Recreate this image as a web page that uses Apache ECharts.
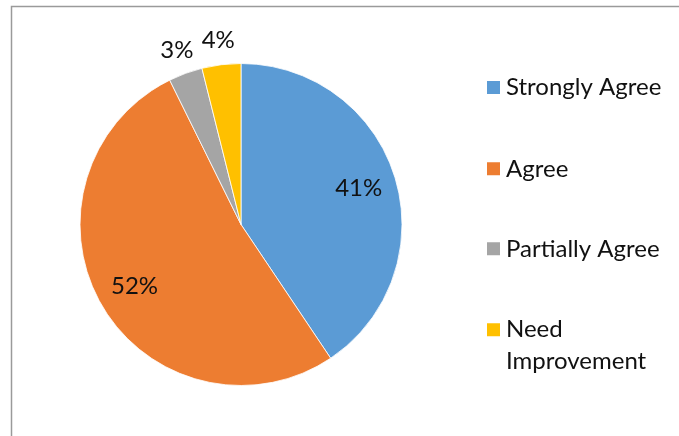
<!DOCTYPE html>
<html>
<head>
<meta charset="utf-8">
<script src="https://cdn.jsdelivr.net/npm/echarts@6/dist/echarts.min.js"></script>
<style>
html,body{margin:0;padding:0;background:#fff;}
#main{width:679px;height:436px;}
</style>
</head>
<body>
<div id="main"></div>
<script>
// Data
var categories = ['Strongly Agree', 'Agree', 'Partially Agree', 'Need Improvement'];
var values = [40.6, 52.1, 3.4, 3.9];
var colors = ['#5B9BD5', '#ED7D31', '#A5A5A5', '#FFC000'];
var insideLabelShown = [true, true, false, false];

var FONT = 'Lato';
var chart = echarts.init(document.getElementById('main'), null, {renderer: 'canvas'});

function pieData(showFlags, transparent) {
  return categories.map(function (c, i) {
    var d = {name: c, value: values[i]};
    d.itemStyle = transparent ? {color: 'rgba(0,0,0,0)', borderWidth: 0} : {color: colors[i]};
    if (showFlags) d.label = {show: showFlags[i]};
    return d;
  });
}
var pctFmt = function (p) { return Math.round(p.percent) + '%'; };
var labelStyle = {position: 'inside', formatter: pctFmt, fontFamily: FONT, fontSize: 24, color: '#111'};

var legendTops = [71.5, 152.8, 232.8, 281.7];
var legends = categories.map(function (c, i) {
  return {
    data: [c],
    orient: 'vertical',
    left: 485,
    top: legendTops[i],
    padding: 0,
    itemWidth: 15,
    itemHeight: 15,
    icon: 'rect',
    selectedMode: false,
    formatter: function (name) {
      return name === 'Need Improvement' ? '\u00a0\nNeed\nImprovement' : name;
    },
    textStyle: {fontFamily: FONT, fontSize: 24, color: '#111', lineHeight: 32}
  };
});

chart.setOption({
  animation: false,
  color: colors,
  legend: legends,
  graphic: [{
    type: 'rect',
    shape: {x: 11.5, y: 6.5, width: 800, height: 600},
    style: {fill: 'none', stroke: '#9a9a9a', lineWidth: 1.5},
    silent: true,
    z: -1
  }],
  series: [
    {
      type: 'pie',
      center: [241, 224.5],
      radius: [0, 161],
      startAngle: 90,
      clockwise: true,
      avoidLabelOverlap: false,
      label: {show: false},
      labelLine: {show: false},
      itemStyle: {borderColor: '#ffffff', borderWidth: 0.8},
      emphasis: {disabled: true},
      data: pieData(null, false)
    },
    {
      type: 'pie',
      name: 'inner labels',
      center: [241, 224.5],
      radius: [0, 240],
      startAngle: 90,
      clockwise: true,
      silent: true,
      avoidLabelOverlap: false,
      label: labelStyle,
      labelLine: {show: false},
      emphasis: {disabled: true},
      data: pieData(insideLabelShown, true),
      z: 3
    },
    {
      type: 'pie',
      name: 'outer labels',
      center: [241, 224.5],
      radius: [0, 366],
      startAngle: 90,
      clockwise: true,
      silent: true,
      avoidLabelOverlap: false,
      label: labelStyle,
      labelLine: {show: false},
      emphasis: {disabled: true},
      data: pieData(insideLabelShown.map(function (s) { return !s; }), true),
      z: 3
    }
  ]
});
</script>
</body>
</html>
